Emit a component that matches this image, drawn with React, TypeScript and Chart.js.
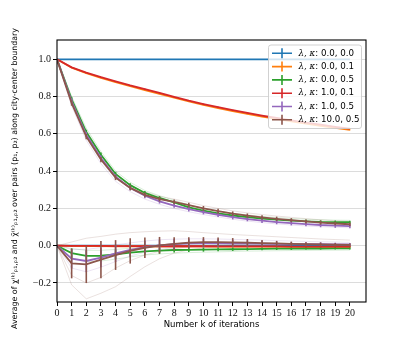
import React, { useEffect, useRef } from "react";
import { Chart, registerables } from "chart.js";
Chart.register(...registerables);

// iterations
const ks = [0, 1, 2, 3, 4, 5, 6, 7, 8, 9, 10, 11, 12, 13, 14, 15, 16, 17, 18, 19, 20];
const xTicks = ks;
const yTicks = [-0.2, 0.0, 0.2, 0.4, 0.6, 0.8, 1.0];

const seriesLabels = ["0.0, 0.0", "0.0, 0.1", "0.0, 0.5", "1.0, 0.1", "1.0, 0.5", "10.0, 0.5"];
const seriesColors = ["#1f77b4", "#ff7f0e", "#2ca02c", "#d62728", "#9467bd", "#8c564b"];

// upper curves (overline chi)
const blueUpper = [1, 1, 1, 1, 1, 1, 1, 1, 1, 1, 1, 1, 1, 1, 1, 1, 1, 1, 1, 1, 1];
const orangeUpper = [1.0, 0.955, 0.925, 0.9, 0.878, 0.856, 0.835, 0.815, 0.794, 0.774, 0.755, 0.738, 0.722, 0.707, 0.693, 0.68, 0.667, 0.655, 0.643, 0.632, 0.621];
const greenUpper = [1.0, 0.785, 0.61, 0.488, 0.385, 0.325, 0.283, 0.256, 0.232, 0.206, 0.188, 0.174, 0.162, 0.153, 0.145, 0.14, 0.135, 0.131, 0.128, 0.127, 0.126];
const redUpper = [1.0, 0.957, 0.928, 0.904, 0.882, 0.86, 0.84, 0.82, 0.798, 0.778, 0.76, 0.743, 0.727, 0.712, 0.698, 0.685, 0.672, 0.66, 0.649, 0.638, 0.628];
const purpleUpper = [1.0, 0.775, 0.595, 0.47, 0.37, 0.31, 0.268, 0.238, 0.215, 0.196, 0.18, 0.166, 0.153, 0.143, 0.134, 0.127, 0.121, 0.116, 0.111, 0.108, 0.105];
const brownUpper = [1.0, 0.765, 0.585, 0.462, 0.365, 0.31, 0.273, 0.25, 0.235, 0.218, 0.2, 0.185, 0.172, 0.161, 0.152, 0.144, 0.137, 0.13, 0.124, 0.119, 0.115];

const blueUpperErr = [0, 0, 0, 0, 0, 0, 0, 0, 0, 0, 0, 0, 0, 0, 0, 0, 0, 0, 0, 0, 0];
const orangeUpperErr = [0, 0.002, 0.002, 0.002, 0.002, 0.002, 0.002, 0.002, 0.002, 0.002, 0.002, 0.002, 0.002, 0.002, 0.002, 0.002, 0.002, 0.002, 0.002, 0.002, 0.002];
const greenUpperErr = [0, 0.012, 0.012, 0.012, 0.011, 0.01, 0.01, 0.01, 0.009, 0.009, 0.009, 0.009, 0.009, 0.008, 0.008, 0.008, 0.008, 0.008, 0.008, 0.008, 0.008];
const redUpperErr = [0, 0.002, 0.002, 0.002, 0.002, 0.002, 0.002, 0.002, 0.002, 0.002, 0.002, 0.002, 0.002, 0.002, 0.002, 0.002, 0.002, 0.002, 0.002, 0.002, 0.002];
const purpleUpperErr = [0, 0.014, 0.014, 0.014, 0.013, 0.013, 0.013, 0.012, 0.012, 0.012, 0.012, 0.012, 0.012, 0.012, 0.012, 0.012, 0.012, 0.012, 0.012, 0.012, 0.012];
const brownUpperErr = [0, 0.014, 0.014, 0.014, 0.013, 0.013, 0.013, 0.013, 0.013, 0.013, 0.013, 0.013, 0.012, 0.012, 0.012, 0.012, 0.011, 0.011, 0.011, 0.01, 0.01];

// lower curves (underline chi)
const blueLower = [0, 0, 0, 0, 0, 0, 0, 0, 0, 0, 0, 0, 0, 0, 0, 0, 0, 0, 0, 0, 0];
const orangeLower = [0, -0.001, -0.002, -0.002, -0.003, -0.003, -0.003, -0.004, -0.004, -0.004, -0.004, -0.005, -0.005, -0.005, -0.005, -0.005, -0.006, -0.006, -0.006, -0.006, -0.006];
const greenLower = [0, -0.04, -0.055, -0.054, -0.046, -0.037, -0.03, -0.026, -0.023, -0.022, -0.021, -0.02, -0.019, -0.018, -0.017, -0.016, -0.016, -0.015, -0.015, -0.014, -0.014];
const redLower = [0, -0.001, -0.001, -0.001, -0.002, -0.002, -0.002, -0.003, -0.003, -0.003, -0.003, -0.004, -0.004, -0.004, -0.004, -0.004, -0.005, -0.005, -0.005, -0.005, -0.005];
const purpleLower = [0, -0.07, -0.082, -0.064, -0.041, -0.022, -0.008, 0.002, 0.008, 0.012, 0.014, 0.014, 0.013, 0.012, 0.011, 0.01, 0.009, 0.008, 0.008, 0.007, 0.007];
const brownLower = [0, -0.095, -0.1, -0.075, -0.05, -0.028, -0.011, 0.002, 0.01, 0.016, 0.019, 0.019, 0.018, 0.016, 0.014, 0.012, 0.01, 0.008, 0.007, 0.005, 0.004];

const blueLowerErr = [0, 0, 0, 0, 0, 0, 0, 0, 0, 0, 0, 0, 0, 0, 0, 0, 0, 0, 0, 0, 0];
const orangeLowerErr = [0, 0.003, 0.003, 0.003, 0.003, 0.003, 0.003, 0.003, 0.003, 0.003, 0.003, 0.003, 0.003, 0.003, 0.003, 0.003, 0.003, 0.003, 0.003, 0.003, 0.003];
const greenLowerErr = [0, 0.025, 0.03, 0.028, 0.025, 0.02, 0.018, 0.016, 0.014, 0.012, 0.011, 0.01, 0.009, 0.008, 0.008, 0.007, 0.007, 0.006, 0.006, 0.006, 0.006];
const redLowerErr = [0, 0.003, 0.003, 0.003, 0.003, 0.003, 0.003, 0.003, 0.003, 0.003, 0.003, 0.003, 0.003, 0.003, 0.003, 0.003, 0.003, 0.003, 0.003, 0.003, 0.003];
const purpleLowerErr = [0, 0.052, 0.06, 0.052, 0.046, 0.04, 0.035, 0.03, 0.028, 0.025, 0.022, 0.02, 0.018, 0.016, 0.014, 0.012, 0.011, 0.01, 0.01, 0.009, 0.008];
const brownLowerErr = [0, 0.08, 0.1, 0.1, 0.08, 0.068, 0.055, 0.045, 0.035, 0.03, 0.027, 0.025, 0.023, 0.02, 0.016, 0.014, 0.012, 0.011, 0.01, 0.009, 0.008];

// faint individual runs
const brownFaintA = [0, -0.21, -0.285, -0.255, -0.22, -0.165, -0.113, -0.07, -0.04, -0.022, -0.012, -0.006, -0.003, -0.002, -0.002, -0.002, -0.002, -0.003, -0.003, -0.004, -0.004];
const brownFaintB = [0, 0.02, 0.04, 0.05, 0.062, 0.07, 0.075, 0.078, 0.08, 0.076, 0.07, 0.065, 0.06, 0.056, 0.052, 0.048, 0.044, 0.04, 0.036, 0.033, 0.03];
const brownFaintC = [0, -0.16, -0.2, -0.17, -0.12, -0.08, -0.05, -0.03, -0.015, -0.006, 0.0, 0.004, 0.006, 0.007, 0.007, 0.006, 0.005, 0.004, 0.003, 0.002, 0.001];
const purpleFaintA = [0, -0.12, -0.14, -0.115, -0.085, -0.055, -0.035, -0.02, -0.01, -0.005, -0.002, 0, 0, 0, 0, 0, 0, 0, 0, 0, 0];
const purpleFaintB = [0, -0.02, -0.02, -0.01, 0.005, 0.015, 0.025, 0.032, 0.035, 0.037, 0.037, 0.036, 0.034, 0.032, 0.03, 0.027, 0.025, 0.023, 0.021, 0.02, 0.018];
const greenFaintA = [0, -0.065, -0.085, -0.082, -0.072, -0.06, -0.05, -0.044, -0.04, -0.037, -0.035, -0.033, -0.031, -0.029, -0.028, -0.027, -0.026, -0.025, -0.024, -0.024, -0.023];
const greenFaintB = [0, -0.015, -0.025, -0.025, -0.02, -0.014, -0.01, -0.008, -0.006, -0.006, -0.005, -0.005, -0.005, -0.005, -0.005, -0.005, -0.005, -0.005, -0.005, -0.005, -0.005];
const purpleFaintUpper = [1.0, 0.75, 0.565, 0.44, 0.345, 0.29, 0.25, 0.222, 0.2, 0.182, 0.167, 0.154, 0.142, 0.132, 0.124, 0.117, 0.111, 0.106, 0.102, 0.099, 0.096];
const greenFaintUpper = [1.0, 0.8, 0.63, 0.505, 0.4, 0.34, 0.296, 0.268, 0.244, 0.219, 0.2, 0.186, 0.174, 0.165, 0.157, 0.151, 0.146, 0.142, 0.139, 0.137, 0.136];
const brownFaintUpper = [1.0, 0.78, 0.6, 0.478, 0.38, 0.325, 0.288, 0.265, 0.25, 0.233, 0.215, 0.2, 0.187, 0.176, 0.167, 0.159, 0.152, 0.145, 0.139, 0.134, 0.13];

const upperSeries = [blueUpper, orangeUpper, greenUpper, redUpper, purpleUpper, brownUpper];
const upperErrs = [blueUpperErr, orangeUpperErr, greenUpperErr, redUpperErr, purpleUpperErr, brownUpperErr];
const lowerSeries = [blueLower, orangeLower, greenLower, redLower, purpleLower, brownLower];
const lowerErrs = [blueLowerErr, orangeLowerErr, greenLowerErr, redLowerErr, purpleLowerErr, brownLowerErr];
const faintLines: [number, number[]][] = [
  [2, greenFaintA], [2, greenFaintB], [2, greenFaintUpper],
  [4, purpleFaintA], [4, purpleFaintB], [4, purpleFaintUpper],
  [5, brownFaintA], [5, brownFaintB], [5, brownFaintC], [5, brownFaintUpper],
];

const yTitle =
  "Average of \u03C7\u0332\u207D\u1D4F\u207E\u209A\u2081,\u209A\u2082 and \u03C7\u0304\u207D\u1D4F\u207E\u209A\u2081,\u209A\u2082 over pairs (p\u2081, p\u2082) along city-center boundary\u00A0\u00A0\u00A0\u00A0\u00A0\u00A0";

const hexA = (hex: string, a: number) => {
  const n = parseInt(hex.slice(1), 16);
  return `rgba(${(n >> 16) & 255},${(n >> 8) & 255},${n & 255},${a})`;
};
const pts = (vals: number[]) => ks.map((k, i) => ({ x: k, y: vals[i] }));

const errorBarPlugin = {
  id: "errbars",
  afterDatasetDraw(chart: any, args: any) {
    const ds = chart.data.datasets[args.index];
    if (!ds.errors) return;
    const { ctx, chartArea } = chart;
    const xs = chart.scales.x, ys = chart.scales.y;
    ctx.save();
    ctx.beginPath();
    ctx.rect(chartArea.left, chartArea.top, chartArea.right - chartArea.left, chartArea.bottom - chartArea.top);
    ctx.clip();
    ctx.strokeStyle = ds.borderColor;
    ctx.lineWidth = 1.6;
    ds.data.forEach((p: any, i: number) => {
      const e = ds.errors[i];
      if (!e) return;
      const px = xs.getPixelForValue(p.x);
      ctx.beginPath();
      ctx.moveTo(px, ys.getPixelForValue(p.y - e));
      ctx.lineTo(px, ys.getPixelForValue(p.y + e));
      ctx.stroke();
    });
    ctx.restore();
  },
};

const frameLegendPlugin = {
  id: "frameLegend",
  afterDraw(chart: any) {
    const { ctx, chartArea: a } = chart;
    ctx.save();
    ctx.strokeStyle = "#000";
    ctx.lineWidth = 1.1;
    ctx.strokeRect(a.left, a.top, a.right - a.left, a.bottom - a.top);
    // legend
    const w = 93, h = 83.5;
    const lx = a.right - 4.5 - w, ly = a.top + 5;
    const r = 2.5;
    ctx.beginPath();
    ctx.moveTo(lx + r, ly);
    ctx.arcTo(lx + w, ly, lx + w, ly + h, r);
    ctx.arcTo(lx + w, ly + h, lx, ly + h, r);
    ctx.arcTo(lx, ly + h, lx, ly, r);
    ctx.arcTo(lx, ly, lx + w, ly, r);
    ctx.closePath();
    ctx.fillStyle = "rgba(255,255,255,0.8)";
    ctx.fill();
    ctx.strokeStyle = "#cccccc";
    ctx.lineWidth = 0.9;
    ctx.stroke();
    seriesLabels.forEach((lab, i) => {
      const cy = ly + 8.3 + i * 13.3;
      ctx.strokeStyle = seriesColors[i];
      ctx.lineWidth = 1.6;
      ctx.beginPath();
      ctx.moveTo(lx + 3.5, cy);
      ctx.lineTo(lx + 23.5, cy);
      ctx.moveTo(lx + 13.5, cy - 5);
      ctx.lineTo(lx + 13.5, cy + 5);
      ctx.stroke();
      ctx.fillStyle = "#000";
      ctx.textBaseline = "middle";
      ctx.textAlign = "left";
      ctx.font = "italic 8.7px 'DejaVu Serif'";
      const greek = "λ, κ";
      ctx.fillText(greek, lx + 30, cy);
      const gw = ctx.measureText(greek).width;
      ctx.font = "8.7px 'DejaVu Sans'";
      ctx.fillText(": " + lab, lx + 30 + gw, cy);
    });
    ctx.restore();
  },
};

export default function App() {
  const ref = useRef<HTMLCanvasElement>(null);
  useEffect(() => {
    document.body.style.margin = "0";
    const drawList: any[] = [];
    faintLines.forEach(([ci, vals]) => {
      drawList.push({
        data: pts(vals),
        borderColor: hexA(seriesColors[ci], 0.3),
        borderWidth: 0.6,
        pointRadius: 0,
        fill: false,
      });
    });
    seriesColors.forEach((c, i) => {
      drawList.push({ data: pts(upperSeries[i]), errors: upperErrs[i], borderColor: c, borderWidth: 1.8, pointRadius: 0, fill: false });
      drawList.push({ data: pts(lowerSeries[i]), errors: lowerErrs[i], borderColor: c, borderWidth: 1.8, pointRadius: 0, fill: false });
    });
    // Chart.js draws the first dataset on top; reverse to keep matplotlib order
    const datasets = drawList.slice().reverse();

    const chart = new Chart(ref.current!, {
      type: "line",
      data: { datasets },
      plugins: [errorBarPlugin, frameLegendPlugin],
      options: {
        animation: false,
        responsive: false,
        devicePixelRatio: 1,
        layout: { padding: { top: 40, right: 41, left: 0, bottom: 0 } },
        plugins: { legend: { display: false }, tooltip: { enabled: false } },
        elements: { line: { tension: 0 } },
        scales: {
          x: {
            type: "linear",
            min: 0,
            max: 21.1,
            afterFit: (s: any) => { s.height = 37; },
            afterBuildTicks: (s: any) => { s.ticks = xTicks.map((v) => ({ value: v })); },
            grid: { drawOnChartArea: false, drawTicks: true, tickLength: 4, tickColor: "#000", tickWidth: 1 },
            border: { display: false },
            ticks: {
              padding: 1,
              color: "#111",
              font: { family: "'Liberation Serif'", size: 10 },
              maxRotation: 0,
              autoSkip: false,
              callback: (v: any) => String(v),
            },
            title: {
              display: true,
              text: "Number k of iterations",
              color: "#000",
              font: { family: "'DejaVu Sans'", size: 8.5 },
              padding: { top: 0, bottom: 9 },
            },
          },
          y: {
            type: "linear",
            min: -0.302,
            max: 1.1035,
            afterFit: (s: any) => { s.width = 57; },
            afterBuildTicks: (s: any) => { s.ticks = yTicks.map((v) => ({ value: v })); },
            grid: { color: "#dcdcdc", lineWidth: 1, drawTicks: true, tickLength: 4, tickColor: "#000", tickWidth: 1 },
            border: { display: false },
            ticks: {
              padding: 2,
              color: "#111",
              font: { family: "'Liberation Serif'", size: 10 },
              callback: (v: any) => {
                const n = Number(v);
                const s = Math.abs(n).toFixed(1);
                return n < -1e-9 ? "\u2212" + s : s;
              },
            },
            title: {
              display: true,
              text: yTitle,
              color: "#000",
              font: { family: "'DejaVu Sans'", size: 7.9 },
              padding: { top: 10, bottom: 0 },
            },
          },
        },
      } as any,
    });
    return () => chart.destroy();
  }, []);
  return (
    <div style={{ position: "absolute", left: 0, top: 0, width: 407, height: 339 }}>
      <canvas ref={ref} width={407} height={339} style={{ display: "block" }} />
    </div>
  );
}
